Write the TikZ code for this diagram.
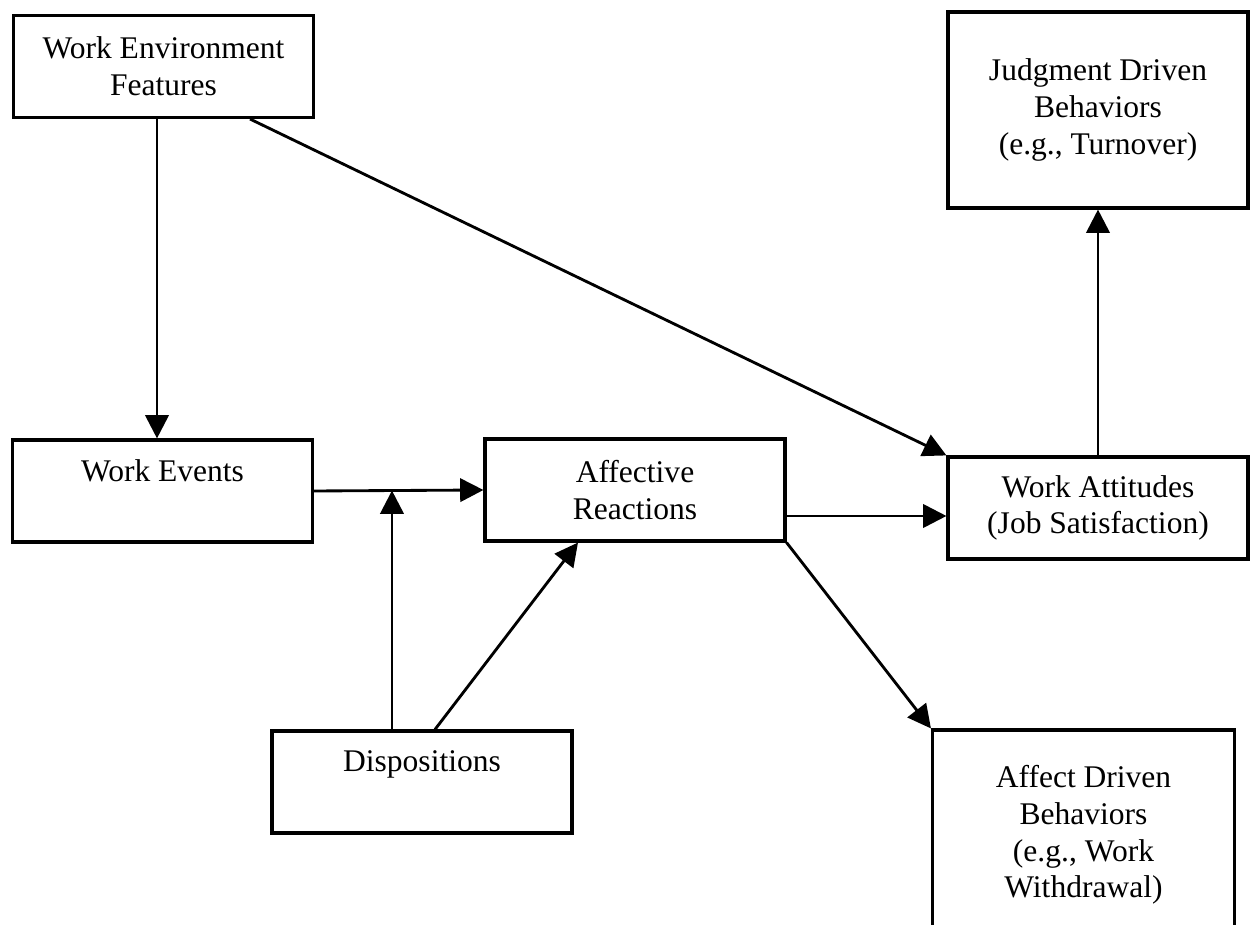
\documentclass[tikz,border=0pt]{standalone}
\usepackage{fontspec}
\setmainfont{Liberation Serif}
\usetikzlibrary{arrows.meta,calc}
\begin{document}
\begin{tikzpicture}[
x=1.36cm,y=1.36cm,
font=\fontsize{12.2}{14.2}\selectfont,
box/.style={draw,line width=1.2pt,minimum width=3cm*1.36,minimum height=1.02cm*1.36,align=center,inner sep=0},
toptitle/.style={anchor=north,yshift=-4.5pt,align=center},
arr/.style={-{Triangle[length=9pt,width=9pt]},line width=1.1pt},
]
\useasboundingbox(0,0)rectangle(12.51,9.25);

%boxes
\node[box](wef)at(1.635,8.585){Work Environment\\Features};
\node[box,minimum height=1.96cm*1.36](judgment)at(10.98,8.15){Judgment Driven\\Behaviors\\(e.g., Turnover)};
\node[box,label={[toptitle]north:Work Events}](events)at(1.625,4.34){};
\node[box](affect)at(6.35,4.35){Affective\\Reactions};
\node[box](attitudes)at(10.98,4.17){Work Attitudes\\(Job Satisfaction)};
\node[box,label={[toptitle]north:Dispositions}](disp)at(4.22,1.43){};
\node[box,minimum width=3.02cm*1.36,minimum height=2.1cm*1.36](driven)at(10.835,0.90){Affect Driven\\Behaviors\\(e.g., Work\\Withdrawal)};

%links
\draw[arr](wef.south-|1.57,0)--(events.north-|1.57,0);
\draw[arr]($(wef.south east)+(-0.65,0)$)--(attitudes.north west);
\draw[arr](attitudes)--(judgment);
\draw[arr](events.east)--(affect.west);
\coordinate(join)at($(events.east)!0.46!(affect.west)$);
\draw[arr](disp.north-|join)--(join);
\draw[arr]($(disp.north)+(0.13,0)$)--($(affect.south)+(-0.57,0)$);
\coordinate(ra)at($(affect.east)+(0,-0.26)$);
\draw[arr](ra)--(ra-|attitudes.west);
\draw[arr](affect.south east)--(driven.north west);

\end{tikzpicture}
\end{document}
